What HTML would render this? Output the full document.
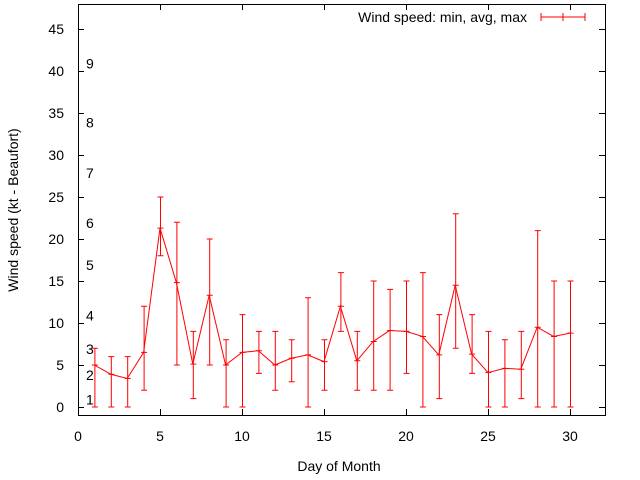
<!DOCTYPE html>
<html><head><meta charset="utf-8"><style>
body{margin:0;background:#fff}
svg{display:block;font-family:"Liberation Sans",sans-serif}
</style></head><body>
<svg id="c" width="640" height="480">
<rect x="78.5" y="4.5" width="527" height="411" fill="none" stroke="#000"/>
<g id="ax"></g><g id="bf"></g><g id="ser"></g>
<text x="339" y="471" text-anchor="middle" font-size="14">Day of Month</text>
<text transform="translate(18,210) rotate(-90)" text-anchor="middle" font-size="14">Wind speed (kt - Beaufort)</text>
<g>
<text x="527" y="22" text-anchor="end" font-size="14">Wind speed: min, avg, max</text>
<path d="M541 17H585M541 13V21M563 13V21M585 13V21" stroke="#f00" stroke-width="1"/>
</g>
</svg>
<script>
const days=[1,2,3,4,5,6,7,8,9,10,11,12,13,14,15,16,17,18,19,20,21,22,23,24,25,26,27,28,29,30];
const avgs=[5,3.9,3.4,6.5,21.3,14.8,5.1,13.3,5,6.5,6.7,5,5.8,6.2,5.4,12,5.5,7.8,9.1,9,8.4,6.2,14.5,6.3,4.1,4.6,4.5,9.5,8.4,8.8];
const mins=[0,0,0,2,18,5,1,5,0,0,4,2,3,0,2,9,2,2,2,4,0,1,7,4,0,0,1,0,0,0];
const maxs=[7,6,6,12,25,22,9,20,8,11,9,9,8,13,8,16,9,15,14,15,16,11,23,11,9,8,9,21,15,15];
const xTicks=[0,5,10,15,20,25,30];
const yTicks=[0,5,10,15,20,25,30,35,40,45];
const beaufort=[1,2,3,4,5,6,7,8,9];
const beaufortKt=[1,3.9,7,11,17,22,28,34,41];
const NS='http://www.w3.org/2000/svg';
const X=v=>78+v*16.4, Y=v=>407-v*8.4;
function mk(t,a,p){const e=document.createElementNS(NS,t);for(const k in a)e.setAttribute(k,a[k]);p.appendChild(e);return e;}
const ax=document.getElementById('ax');
xTicks.forEach(v=>{const g=mk('g',{},ax);


mk('path',{d:`M${X(v)+.5} 415V409M${X(v)+.5} 4V10`,stroke:'#000'},g);
const t=mk('text',{x:X(v),y:441,'text-anchor':'middle','font-size':14},g);t.textContent=v;});
yTicks.forEach(v=>{const g=mk('g',{},ax);


mk('path',{d:`M78 ${Y(v)+.5}H84M605 ${Y(v)+.5}H599`,stroke:'#000'},g);
const t=mk('text',{x:64,y:Y(v)+5,'text-anchor':'end','font-size':14},g);t.textContent=v;});
const bf=document.getElementById('bf');
beaufort.forEach((b,i)=>{const t=mk('text',{x:86,y:Y(beaufortKt[i])+6,'font-size':14},bf);


t.textContent=b;});
const ser=document.getElementById('ser');
const line=mk('polyline',{points:days.map((d,i)=>X(d)+','+Y(avgs[i])).join(' '),fill:'none',stroke:'#f00'},ser);


days.forEach((d,i)=>{const x=X(d)+.5;
const p=mk('path',{d:`M${x} ${Y(mins[i])}V${Y(maxs[i])}M${x-3} ${Y(mins[i])}h6M${x-3} ${Y(maxs[i])}h6M${x-3} ${Y(avgs[i])}h6`,stroke:'#f00',fill:'none'},ser);

});
</script>
</body></html>
